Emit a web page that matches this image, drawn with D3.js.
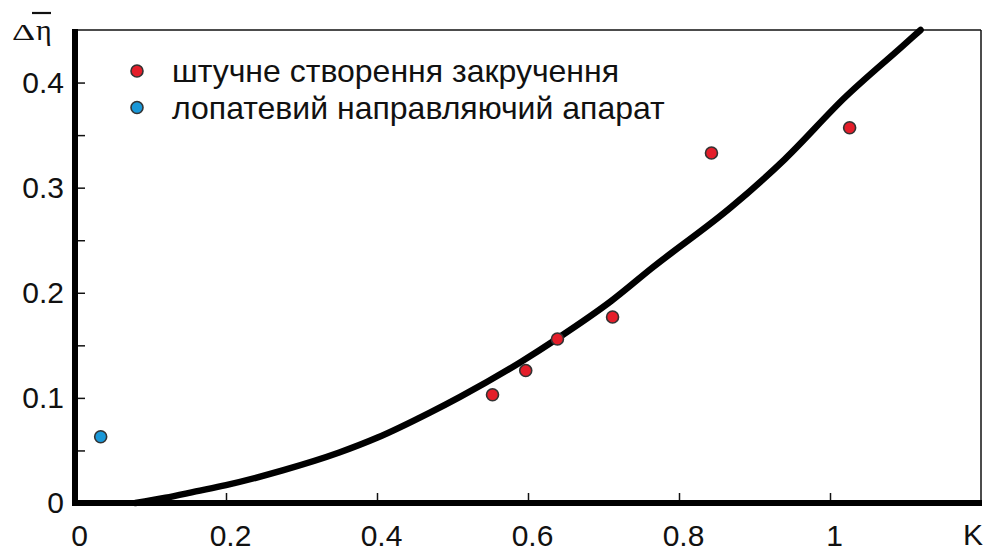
<!DOCTYPE html>
<html>
<head>
<meta charset="utf-8">
<script src="https://cdn.jsdelivr.net/npm/d3@7"></script>
<style>
  html, body { margin: 0; padding: 0; background: #fff; }
  svg { display: block; }
  text { font-family: "Liberation Sans", Arial, sans-serif; fill: #111; }
</style>
</head>
<body>
<svg id="chart" width="988" height="551"></svg>
<script>
// Approximation curve: efficiency gain vs swirl parameter K
const curveK   = [0.08, 0.12, 0.16, 0.2, 0.275, 0.35, 0.4, 0.47, 0.51, 0.59, 0.64, 0.71, 0.765, 0.87, 0.94, 1.02, 1.095, 1.12];
const curveEta = [0, 0.005, 0.011, 0.017, 0.031, 0.048, 0.062, 0.086, 0.101, 0.134, 0.157, 0.192, 0.224, 0.282, 0.327, 0.386, 0.434, 0.45];

// Experimental points: artificial swirl generation
const swirlK   = [0.553, 0.597, 0.639, 0.712, 0.843, 1.026];
const swirlEta = [0.103, 0.126, 0.156, 0.177, 0.333, 0.357];

// Experimental point: guide vane apparatus
const vaneK   = [0.034];
const vaneEta = [0.063];

const xTicks = [0, 0.2, 0.4, 0.6, 0.8, 1];
const yTicks = [0, 0.05, 0.1, 0.15, 0.2, 0.25, 0.3, 0.35, 0.4];
const yLabelTicks = [0, 0.1, 0.2, 0.3, 0.4];

const legendLabels = ["штучне створення закручення", "лопатевий направляючий апарат"];
const colors = { swirl: "#e41e2a", vane: "#1a98d8", dotStroke: "#333" };

const svg = d3.select("#chart");
const plotLeft = 75, plotRight = 981, plotTop = 30, plotBottom = 503;
const axisWeight = 6;

const x = d3.scaleLinear().domain([0, 1.2]).range([plotLeft, plotRight]);
const y = d3.scaleLinear().domain([0, 0.45]).range([plotBottom, plotTop]);

// Thin frame on top and right
svg.append("line").attr("x1", plotLeft).attr("x2", plotRight).attr("y1", plotTop).attr("y2", plotTop)
  .attr("stroke", "#111").attr("stroke-width", 1.5);
svg.append("line").attr("x1", plotRight).attr("x2", plotRight).attr("y1", plotTop).attr("y2", plotBottom)
  .attr("stroke", "#111").attr("stroke-width", 1.5);

const fmt = d => d === 0 ? "0" : (d === 1 ? "1" : d3.format(".1f")(d));

// Y axis (ticks pointing inward)
const yAxis = svg.append("g").attr("transform", `translate(${plotLeft},0)`)
  .call(d3.axisLeft(y).tickValues(yTicks).tickSizeInner(-10).tickSizeOuter(0).tickPadding(11)
    .tickFormat(d => yLabelTicks.some(v => Math.abs(v - d) < 1e-9) ? fmt(d) : ""));
yAxis.select(".domain").remove();
yAxis.selectAll(".tick line").attr("stroke", "#111").attr("stroke-width", 1.5);
yAxis.selectAll(".tick text").style("font-size", "30px").attr("fill", "#111");
yAxis.selectAll(".tick").filter(d => d === 0).select("line").remove();

// X axis (ticks pointing inward)
const xAxis = svg.append("g").attr("transform", `translate(0,${plotBottom})`)
  .call(d3.axisBottom(x).tickValues(xTicks).tickSizeInner(-10).tickSizeOuter(0).tickPadding(21.5)
    .tickFormat(fmt));
xAxis.select(".domain").remove();
xAxis.selectAll(".tick line").attr("stroke", "#111").attr("stroke-width", 1.5);
xAxis.selectAll(".tick text").style("font-size", "30px").attr("dx", 4).attr("fill", "#111");
xAxis.selectAll(".tick").filter(d => d === 0).select("line").remove();

// Heavy axis bars
svg.append("rect")
  .attr("x", plotLeft - axisWeight / 2).attr("y", plotTop - 1)
  .attr("width", axisWeight).attr("height", plotBottom - plotTop + 1 + axisWeight / 2)
  .attr("fill", "#000");
svg.append("rect")
  .attr("x", plotLeft - axisWeight / 2).attr("y", plotBottom - axisWeight / 2)
  .attr("width", plotRight - plotLeft + 1 + axisWeight / 2).attr("height", axisWeight)
  .attr("fill", "#000");

// Axis titles
svg.append("text").attr("x", x(1.2) - 8).attr("y", 545).attr("text-anchor", "middle")
  .style("font-size", "30px").text("K");

svg.append("g").attr("transform", "translate(12,40) scale(1.5,1)")
  .append("text").attr("x", 0).attr("y", 0)
  .style("font-family", "'Liberation Serif', 'Times New Roman', serif").style("font-size", "24px")
  .text("Δ");
svg.append("text").attr("x", 36).attr("y", 40)
  .style("font-family", "'Liberation Serif', 'Times New Roman', serif").style("font-size", "30px")
  .text("η");
svg.append("line").attr("x1", 32).attr("x2", 51).attr("y1", 13).attr("y2", 13)
  .attr("stroke", "#111").attr("stroke-width", 2.2);

// Fitted curve
const line = d3.line().x(d => x(d[0])).y(d => y(d[1])).curve(d3.curveMonotoneX);
svg.append("path").datum(d3.zip(curveK, curveEta))
  .attr("d", line).attr("fill", "none").attr("stroke", "#000")
  .attr("stroke-width", 6.5).attr("stroke-linecap", "round").attr("stroke-linejoin", "round");

// Points
const r = 6;
svg.append("g").selectAll("circle").data(d3.zip(swirlK, swirlEta)).join("circle")
  .attr("cx", d => x(d[0])).attr("cy", d => y(d[1])).attr("r", r)
  .attr("fill", colors.swirl).attr("stroke", colors.dotStroke).attr("stroke-width", 1.6);
svg.append("g").selectAll("circle").data(d3.zip(vaneK, vaneEta)).join("circle")
  .attr("cx", d => x(d[0])).attr("cy", d => y(d[1])).attr("r", r)
  .attr("fill", colors.vane).attr("stroke", colors.dotStroke).attr("stroke-width", 1.6);

// Legend
const legend = svg.append("g");
const legendColors = [colors.swirl, colors.vane];
legendLabels.forEach((label, i) => {
  const cy = 71 + i * 36.5;
  legend.append("circle").attr("cx", 137).attr("cy", cy).attr("r", r)
    .attr("fill", legendColors[i]).attr("stroke", colors.dotStroke).attr("stroke-width", 1.6);
  legend.append("text").attr("x", 172).attr("y", cy + 11)
    .style("font-size", "32px").text(label);
});
</script>
</body>
</html>
